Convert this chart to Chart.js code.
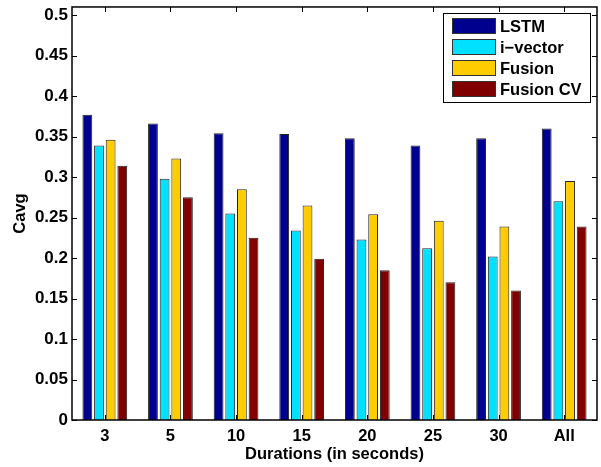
<!DOCTYPE html>
<html>
<head>
<meta charset="utf-8">
<script src="https://cdn.jsdelivr.net/npm/chart.js@4.4.0/dist/chart.umd.min.js"></script>
<style>
    html, body { margin: 0; padding: 0; background: #ffffff; }
    #wrap { width: 601px; height: 467px; }
</style>
</head>
<body>
<div id="wrap"><canvas id="chart" width="601" height="467"></canvas></div>
<script>
// ==========================================
// DATA
// ==========================================
const durations = ['3', '5', '10', '15', '20', '25', '30', 'All'];

const lstm_cavg      = [0.377, 0.366, 0.354, 0.353, 0.348, 0.339, 0.348, 0.360];
const ivector_cavg   = [0.339, 0.298, 0.255, 0.234, 0.223, 0.212, 0.202, 0.270];
const fusion_cavg    = [0.346, 0.323, 0.285, 0.265, 0.254, 0.246, 0.239, 0.295];
const fusion_cv_cavg = [0.314, 0.275, 0.225, 0.199, 0.185, 0.170, 0.160, 0.239];

const seriesNames  = ['LSTM', 'i\u2212vector', 'Fusion', 'Fusion CV'];
const seriesColors = ['#00008f', '#00e1ff', '#ffcc00', '#800000'];

const yTicks = [0, 0.05, 0.1, 0.15, 0.2, 0.25, 0.3, 0.35, 0.4, 0.45, 0.5];

const FONT = 'Liberation Sans, Arial, Helvetica, sans-serif';

// ==========================================
// FRAME, INWARD TICKS AND LEGEND
// ==========================================
const framePlugin = {
    id: 'frame',
    afterDraw(chart) {
        const { ctx, chartArea: a, scales } = chart;
        ctx.save();
        ctx.strokeStyle = '#000';
        ctx.lineWidth = 1.5;
        ctx.strokeRect(a.left, a.top, a.right - a.left, a.bottom - a.top);

        // y ticks, both sides
        ctx.lineWidth = 1;
        yTicks.forEach(v => {
            const y = Math.round(scales.y.getPixelForValue(v)) + 0.5;
            ctx.beginPath();
            ctx.moveTo(a.left, y); ctx.lineTo(a.left + 5, y);
            ctx.moveTo(a.right, y); ctx.lineTo(a.right - 5, y);
            ctx.stroke();
        });
        // x ticks, top and bottom
        durations.forEach((d, i) => {
            const x = Math.round(scales.x.getPixelForValue(i)) + 0.5;
            ctx.beginPath();
            ctx.moveTo(x, a.top); ctx.lineTo(x, a.top + 5);
            ctx.moveTo(x, a.bottom); ctx.lineTo(x, a.bottom - 5);
            ctx.stroke();
        });

        // legend box
        const bx = 443, by = 13, bw = 147, bh = 89;
        ctx.fillStyle = '#fff';
        ctx.fillRect(bx, by, bw, bh);
        ctx.lineWidth = 1;
        ctx.strokeStyle = '#000';
        ctx.strokeRect(bx + 0.5, by + 0.5, bw, bh);
        ctx.font = 'bold 16.5px ' + FONT;
        ctx.textBaseline = 'middle';
        chart.data.datasets.forEach((ds, i) => {
            const ry = by + 5 + i * 21;
            ctx.fillStyle = ds.backgroundColor;
            ctx.fillRect(bx + 9, ry, 44, 16);
            ctx.strokeStyle = '#333';
            ctx.strokeRect(bx + 9.5, ry + 0.5, 43, 15);
            ctx.fillStyle = '#000';
            ctx.fillText(ds.label, bx + 57, ry + 9);
        });
        ctx.restore();
    }
};

// ==========================================
// CHART
// ==========================================
const values = [lstm_cavg, ivector_cavg, fusion_cavg, fusion_cv_cavg];

new Chart(document.getElementById('chart'), {
    type: 'bar',
    data: {
        labels: durations,
        datasets: seriesNames.map((name, i) => ({
            label: name,
            data: values[i],
            backgroundColor: seriesColors[i],
            borderColor: '#222',
            borderWidth: 1,
            borderSkipped: 'bottom',
            barPercentage: 0.84,
            categoryPercentage: 0.71
        }))
    },
    options: {
        responsive: false,
        animation: false,
        layout: { padding: { top: 0, right: 4, left: 0, bottom: 2 } },
        plugins: {
            legend: { display: false },
            tooltip: { enabled: false }
        },
        scales: {
            x: {
                afterFit(scale) { scale.height = 45; },
                grid: { display: false, drawTicks: false },
                border: { display: false },
                ticks: { color: '#000', font: { family: FONT, size: 16.5, weight: 'bold' }, padding: 7 },
                title: {
                    display: true,
                    text: 'Durations (in seconds)',
                    color: '#000',
                    font: { family: FONT, size: 16.5, weight: 'bold' },
                    padding: { top: 0, bottom: 1 }
                }
            },
            y: {
                min: 0,
                max: 0.51,
                afterBuildTicks(scale) {
                    scale.ticks = yTicks.map(v => ({ value: v }));
                },
                afterFit(scale) { scale.width = 72; },
                grid: { display: false, drawTicks: false },
                border: { display: false },
                ticks: {
                    color: '#000',
                    font: { family: FONT, size: 17, weight: 'bold', lineHeight: 0.35 },
                    padding: 4,
                    callback: v => String(v)
                },
                title: {
                    display: true,
                    text: 'Cavg',
                    color: '#000',
                    font: { family: FONT, size: 16.5, weight: 'bold' },
                    padding: { top: 11, bottom: 0 }
                }
            }
        }
    },
    plugins: [framePlugin]
});
</script>
</body>
</html>
